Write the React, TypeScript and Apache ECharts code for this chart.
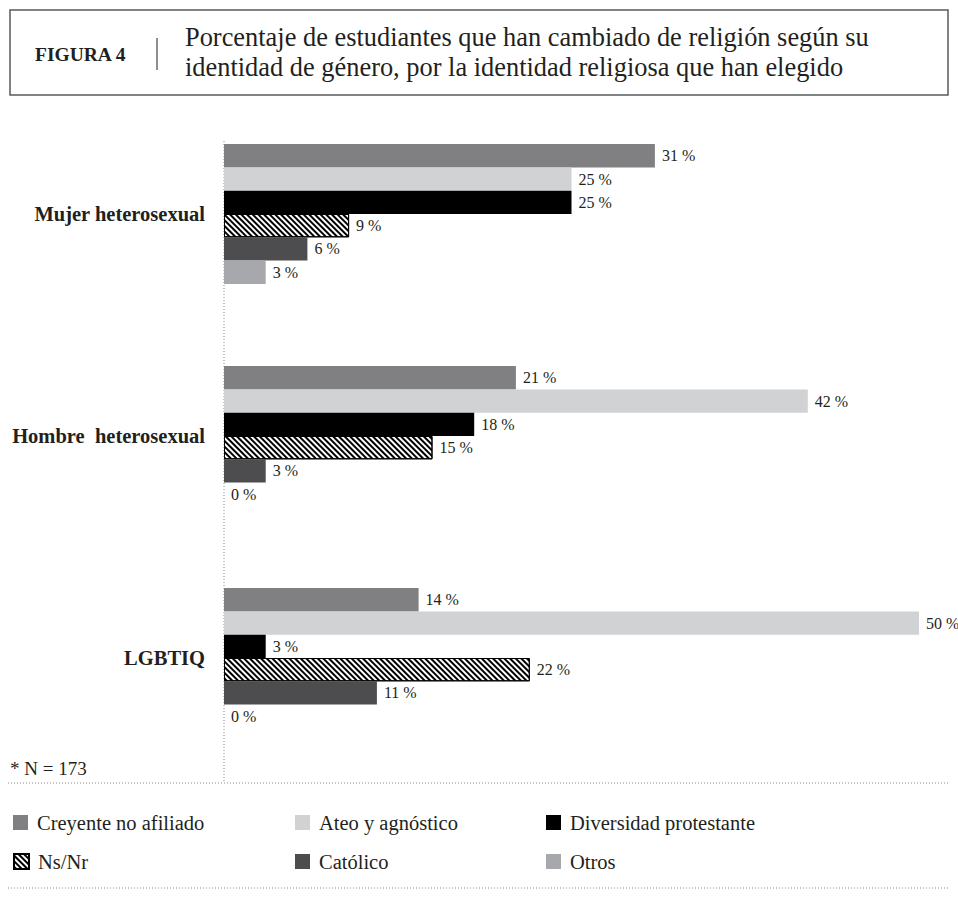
import React, { useEffect, useRef } from 'react';
import * as echarts from 'echarts';

const categories = ['Mujer heterosexual', 'Hombre  heterosexual', 'LGBTIQ'];
const seriesNames = ['Creyente no afiliado', 'Ateo y agnóstico', 'Diversidad protestante', 'Ns/Nr', 'Católico', 'Otros'];
const creyente = [31, 21, 14];
const ateo = [25, 42, 50];
const diversidad = [25, 18, 3];
const nsnr = [9, 15, 22];
const catolico = [6, 3, 11];
const otros = [3, 0, 0];
const seriesValues = [creyente, ateo, diversidad, nsnr, catolico, otros];
const seriesColors = ['#808083', '#d1d2d4', '#000000', '#ffffff', '#4d4d4f', '#a7a8ab'];
const figureLabel = 'FIGURA 4';
const titleLines = [
  'Porcentaje de estudiantes que han cambiado de religión según su',
  'identidad de género, por la identidad religiosa que han elegido',
];
const footnote = '* N = 173';

const SERIF = '"Liberation Serif", "Times New Roman", serif';
const TEXT = '#231f20';

export default function App() {
  const ref = useRef<HTMLDivElement>(null);
  useEffect(() => {
    if (!ref.current) return;
    const chart = echarts.init(ref.current, null, { renderer: 'svg' });

    const series = seriesNames.map((name, i) => {
      const isHatch = name === 'Ns/Nr';
      return {
        name,
        type: 'bar',
        data: seriesValues[i],
        barWidth: 23.3,
        barGap: '0%',
        itemStyle: isHatch
          ? {
              color: '#ffffff',
              borderColor: '#000000',
              borderWidth: 1,
              decal: {
                symbol: 'rect',
                symbolSize: 1,
                dashArrayX: [1, 0],
                dashArrayY: [1.4, 1.6],
                rotation: Math.PI / 4,
                color: '#000000',
                backgroundColor: '#ffffff',
              },
            }
          : { color: seriesColors[i] },
        label: {
          show: true,
          position: 'right',
          distance: 7,
          formatter: '{c} %',
          fontFamily: SERIF,
          fontSize: 16,
          color: TEXT,
        },
      };
    });

    const cols = [8, 290, 541];
    const rows = [807, 846];
    const legends = seriesNames.map((name, i) => ({
      data: [name],
      left: cols[i % 3],
      top: rows[Math.floor(i / 3)],
      orient: 'horizontal',
      icon: 'rect',
      itemWidth: 15,
      itemHeight: 15,
      selectedMode: false,
      textStyle: {
        fontFamily: SERIF,
        fontSize: 20.5,
        color: TEXT,
        padding: [0, 0, 0, 4],
      },
    }));

    const option = {
      animation: false,
      backgroundColor: '#ffffff',
      grid: { left: 224, right: 39, top: 103, bottom: 129, containLabel: false },
      xAxis: {
        type: 'value',
        min: 0,
        max: 50,
        show: false,
      },
      yAxis: {
        type: 'category',
        data: categories,
        inverse: true,
        axisLine: { show: false },
        axisTick: { show: false },
        splitLine: { show: false },
        axisLabel: {
          margin: 19,
          fontFamily: SERIF,
          fontSize: 20.5,
          fontWeight: 'bold',
          color: TEXT,
        },
      },
      legend: legends,
      series,
      graphic: [
        {
          type: 'rect',
          shape: { x: 10, y: 10, width: 938, height: 85 },
          style: { fill: 'none', stroke: '#58595b', lineWidth: 1.5 },
          silent: true,
        },
        {
          type: 'text',
          x: 35,
          y: 54,
          style: {
            text: figureLabel,
            fontFamily: SERIF,
            fontSize: 19.5,
            fontWeight: 'bold',
            fill: TEXT,
            verticalAlign: 'middle',
          },
        },
        {
          type: 'line',
          shape: { x1: 157, y1: 38, x2: 157, y2: 70 },
          style: { stroke: '#231f20', lineWidth: 1 },
        },
        {
          type: 'text',
          x: 185,
          y: 37,
          style: {
            text: titleLines[0],
            fontFamily: SERIF,
            fontSize: 26.4,
            fill: TEXT,
            verticalAlign: 'middle',
          },
        },
        {
          type: 'text',
          x: 185,
          y: 67,
          style: {
            text: titleLines[1],
            fontFamily: SERIF,
            fontSize: 26.4,
            fill: TEXT,
            verticalAlign: 'middle',
          },
        },
        {
          type: 'line',
          shape: { x1: 224, y1: 141, x2: 224, y2: 783 },
          style: { stroke: '#8a8a8d', lineWidth: 1, lineDash: [1, 2] },
        },
        {
          type: 'line',
          shape: { x1: 8, y1: 783, x2: 950, y2: 783 },
          style: { stroke: '#8a8a8d', lineWidth: 1, lineDash: [1, 2] },
        },
        {
          type: 'line',
          shape: { x1: 8, y1: 888, x2: 950, y2: 888 },
          style: { stroke: '#8a8a8d', lineWidth: 1, lineDash: [1, 2] },
        },
        {
          type: 'text',
          x: 10,
          y: 768,
          style: {
            text: footnote,
            fontFamily: SERIF,
            fontSize: 19,
            fill: TEXT,
            verticalAlign: 'middle',
          },
        },
      ],
    };

    chart.setOption(option as any);
    return () => chart.dispose();
  }, []);

  return (
    <div
      ref={ref}
      style={{ position: 'fixed', left: 0, top: 0, width: 958, height: 898, background: '#fff' }}
    />
  );
}
